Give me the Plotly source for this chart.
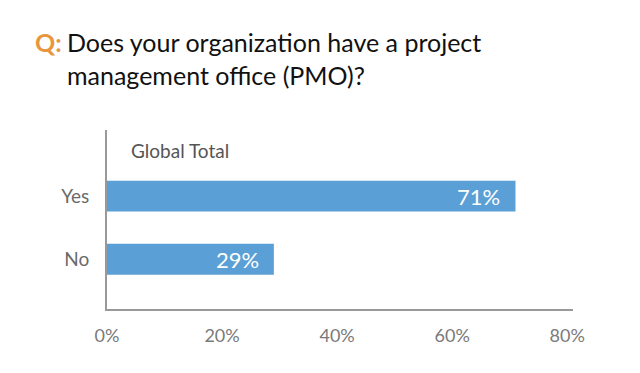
import plotly.graph_objects as go

categories = ["No", "Yes"]
values = [29, 71]
value_labels = ["29%", "71%"]
tick_vals = [0, 20, 40, 60, 80]
tick_text = ["0%", "20%", "40%", "60%", "80%"]
question_lines = ["Does your organization have a project", "management office (PMO)?"]
panel_title = "Global Total"

W, H = 640, 373
L, R, T, B = 107, 67, 130, 64
PW, PH = W - L - R, H - T - B

def px(x):
    return (x - L) / PW

def py(y):
    return (H - B - y) / PH

FONT = "Lato"
BAR = "#5A9FD6"

fig = go.Figure(go.Bar(
    x=values, y=categories, orientation="h",
    marker=dict(color=BAR, line=dict(width=0)),
    width=0.49, hoverinfo="skip",
))

ann = []
for c, v, t in zip(categories, values, value_labels):
    ann.append(dict(x=v, y=c, xref="x", yref="y", text=t, showarrow=False,
                    xanchor="right", yanchor="middle", xshift=-13, yshift=0,
                    font=dict(family=FONT, size=22, color="white")))

ann.append(dict(x=px(33), y=py(42), xref="paper", yref="paper", text="<b>Q:</b>",
                showarrow=False, xanchor="left", yanchor="middle",
                font=dict(family=FONT, size=25, color="#E8963E")))
for i, line in enumerate(question_lines):
    ann.append(dict(x=px(65), y=py(42 + 33 * i), xref="paper", yref="paper", text=line,
                    showarrow=False, xanchor="left", yanchor="middle",
                    font=dict(family=FONT, size=25, color="#111111")))
ann.append(dict(x=px(129), y=py(150), xref="paper", yref="paper", text=panel_title,
                showarrow=False, xanchor="left", yanchor="middle",
                font=dict(family=FONT, size=19, color="#555555")))

fig.update_layout(
    width=W, height=H,
    margin=dict(l=L, r=R, t=T, b=B, pad=0),
    paper_bgcolor="white", plot_bgcolor="white",
    showlegend=False,
    annotations=ann,
    xaxis=dict(range=[0, 81.0], tickvals=tick_vals, ticktext=tick_text,
               showgrid=False, zeroline=False, showline=True, linecolor="#999999",
               linewidth=2, ticks="", ticklabelstandoff=9,
               tickfont=dict(family=FONT, size=18, color="#7a7a7a")),
    yaxis=dict(range=[-0.79, 2.05], categoryorder="array", categoryarray=categories,
               showgrid=False, zeroline=False, showline=True, linecolor="#999999",
               linewidth=2, ticks="", ticklabelstandoff=12,
               tickfont=dict(family=FONT, size=19, color="#6a6a6a")),
)

fig.write_html("out.html", config={"displayModeBar": False},
               post_script="document.body.style.margin='0';")
